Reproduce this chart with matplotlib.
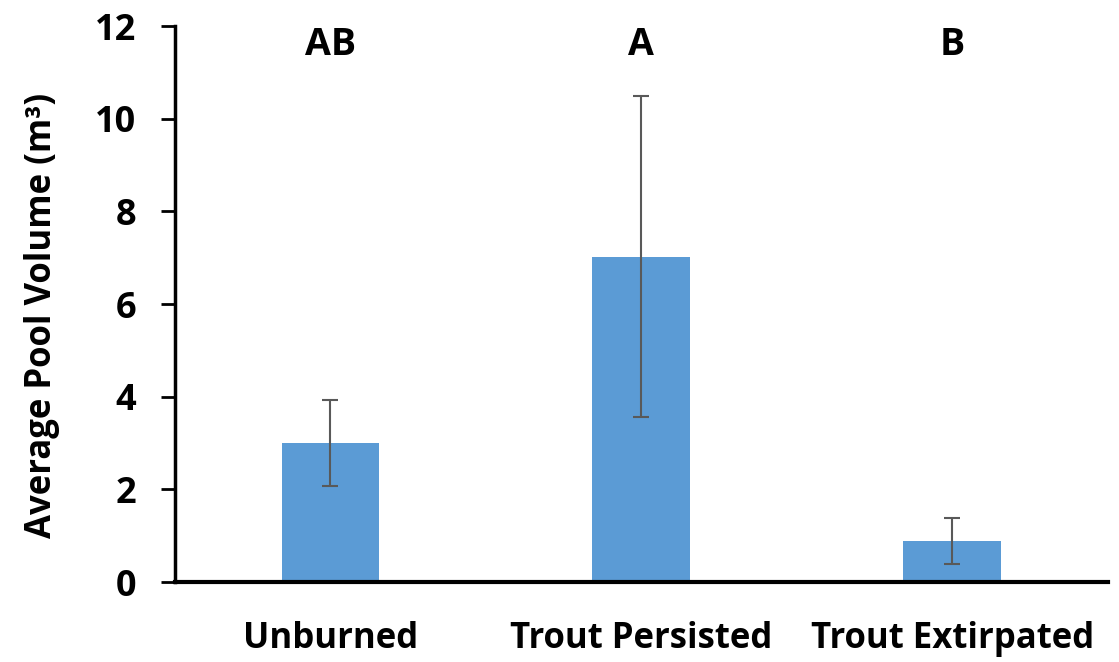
import matplotlib
matplotlib.use("Agg")
import matplotlib.pyplot as plt

categories = ["Unburned", "Trout Persisted", "Trout Extirpated"]
values = [3.0, 7.02, 0.88]
err_low = [2.08, 3.56, 0.39]
err_high = [3.92, 10.5, 1.39]
letters = ["AB", "A", "B"]

plt.rcParams['font.family'] = ["Open Sans", 'DejaVu Sans']

fig = plt.figure(figsize=(11.19, 6.62), dpi=100)
ax = fig.add_axes([0.1564, 0.1208, 0.8336, 0.8399])
x = list(range(len(categories)))
yerr = [[v - l for v, l in zip(values, err_low)], [h - v for v, h in zip(values, err_high)]]
ax.bar(x, values, width=0.315, color="#5B9BD5", zorder=2)
ax.errorbar(x, values, yerr=yerr, fmt="none", ecolor="#595959", elinewidth=1.5,
            capsize=6, capthick=1.5, zorder=3)
for xi, t in zip(x, letters):
    ax.text(xi, 11.6, t, ha="center", va="center", fontsize=27, fontweight="bold")
ax.set_xlim(-0.5, 2.5)
ax.set_ylim(0, 12)
ax.set_yticks([0, 2, 4, 6, 8, 10, 12])
ax.set_xticks(x)
ax.set_xticklabels(categories, fontsize=25, fontweight="bold")
for lab in ax.get_yticklabels():
    lab.set_fontsize(26)
    lab.set_fontweight("bold")
ax.tick_params(axis="x", length=0, pad=28)
ax.tick_params(axis="y", length=10, width=2, pad=18, direction="out")
ax.set_ylabel("Average Pool Volume (m³)", fontsize=25, fontweight="bold")
ax.yaxis.set_label_coords(-0.123, 0.48)
for s in ["top", "right"]:
    ax.spines[s].set_visible(False)
ax.spines["left"].set_linewidth(2.5)
ax.spines["bottom"].set_linewidth(3)
fig.savefig("out.png", dpi=100)
